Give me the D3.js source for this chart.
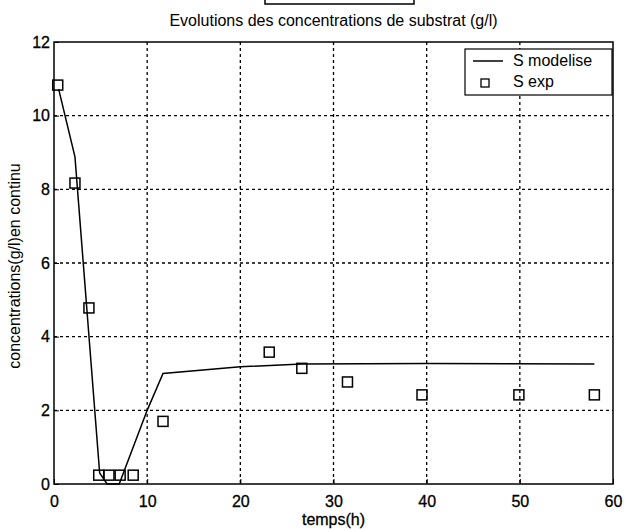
<!DOCTYPE html>
<html>
<head>
<meta charset="utf-8">
<script src="https://cdn.jsdelivr.net/npm/d3@7"></script>
<style>
  body { margin: 0; background: #fff; }
  svg text { font-family: "Liberation Sans", Arial, sans-serif; fill: #000; }
</style>
</head>
<body>
<svg id="chart" width="625" height="529"></svg>
<script>
// experimental points (time h, substrate g/l)
const expTime = [0.4, 2.25, 3.75, 4.8, 5.9, 7.1, 8.5, 11.7, 23.1, 26.6, 31.5, 39.5, 49.9, 58];
const expS    = [10.83, 8.17, 4.78, 0.24, 0.24, 0.24, 0.24, 1.7, 3.58, 3.14, 2.77, 2.42, 2.42, 2.42];

// modelled curve
const modTime = [0.5, 2.25, 4.9, 5.7, 7.0, 10, 11.7, 20, 26.6, 40, 58];
const modS    = [10.72, 8.88, 0.3, 0, 0, 2.0, 3.0, 3.18, 3.26, 3.27, 3.26];

const xTicks = [0, 10, 20, 30, 40, 50, 60];
const yTicks = [0, 2, 4, 6, 8, 10, 12];

const margin = { top: 42, right: 12, bottom: 45, left: 54 };
const width = 625 - margin.left - margin.right,
  height = 529 - margin.top - margin.bottom;

const svg = d3.select("#chart");
const g = svg.append("g")
  .attr("transform", `translate(${margin.left},${margin.top})`);

const x = d3.scaleLinear().domain([0, 60]).range([0, width]);
const y = d3.scaleLinear().domain([0, 12]).range([height, 0]);

// dotted grid
g.append("g").selectAll("line")
  .data(xTicks.slice(1, -1))
  .enter().append("line")
  .attr("x1", d => x(d)).attr("x2", d => x(d))
  .attr("y1", 0).attr("y2", height)
  .attr("stroke", "#000").attr("stroke-width", 1.3)
  .attr("stroke-dasharray", "3,3");
g.append("g").selectAll("line")
  .data(yTicks.slice(1, -1))
  .enter().append("line")
  .attr("x1", 0).attr("x2", width)
  .attr("y1", d => y(d)).attr("y2", d => y(d))
  .attr("stroke", "#000").attr("stroke-width", 1.3)
  .attr("stroke-dasharray", "3,3");

// axes
const xAxis = g.append("g")
  .attr("transform", `translate(0,${height})`)
  .call(d3.axisBottom(x).tickValues(xTicks).tickSize(-5).tickPadding(12));
const yAxis = g.append("g")
  .call(d3.axisLeft(y).tickValues(yTicks).tickSize(-5).tickPadding(4));
[xAxis, yAxis].forEach(a => {
  a.select(".domain").remove();
  a.selectAll("line").attr("stroke", "#000");
  a.selectAll("text").style("font-size", "16px").attr("fill", "#000")
    .attr("stroke", "#000").attr("stroke-width", 0.3);
});

// box
g.append("rect")
  .attr("width", width).attr("height", height)
  .attr("fill", "none").attr("stroke", "#000").attr("stroke-width", 1.5);

// model line
const line = d3.line()
  .x((d, i) => x(modTime[i]))
  .y((d, i) => y(modS[i]));
g.append("path")
  .datum(modS)
  .attr("d", line)
  .attr("fill", "none")
  .attr("stroke", "#000")
  .attr("stroke-width", 1.5);

// experimental squares
const sq = 10;
g.append("g").selectAll("rect")
  .data(expS)
  .enter().append("rect")
  .attr("x", (d, i) => x(expTime[i]) - sq / 2)
  .attr("y", d => y(d) - sq / 2)
  .attr("width", sq).attr("height", sq)
  .attr("fill", "none").attr("stroke", "#000").attr("stroke-width", 1.5);

// legend
const leg = g.append("g").attr("transform", `translate(${width - 148},7)`);
leg.append("rect")
  .attr("width", 147).attr("height", 46)
  .attr("fill", "#fff").attr("stroke", "#000").attr("stroke-width", 1.2);
leg.append("line")
  .attr("x1", 8).attr("x2", 38).attr("y1", 12).attr("y2", 12)
  .attr("stroke", "#000").attr("stroke-width", 1.5);
leg.append("text").attr("x", 48).attr("y", 17).style("font-size", "16px").text("S modelise");
leg.append("rect")
  .attr("x", 16).attr("y", 30).attr("width", 8).attr("height", 8)
  .attr("fill", "none").attr("stroke", "#000").attr("stroke-width", 1.3);
leg.append("text").attr("x", 48).attr("y", 38).style("font-size", "16px").text("S exp");

// top box fragment
svg.append("path")
  .attr("d", "M265,0 V4 H414 V0")
  .attr("fill", "none").attr("stroke", "#000").attr("stroke-width", 1.5);

// title and labels
svg.append("text")
  .attr("x", margin.left + width / 2).attr("y", 26)
  .attr("text-anchor", "middle").style("font-size", "16px")
  .text("Evolutions des concentrations de substrat (g/l)");
svg.append("text")
  .attr("x", margin.left + width / 2).attr("y", 525)
  .attr("text-anchor", "middle").style("font-size", "16px")
  .attr("stroke", "#000").attr("stroke-width", 0.3)
  .text("temps(h)");
svg.append("text")
  .attr("transform", `translate(20,${margin.top + height / 2 + 3}) rotate(-90)`)
  .attr("text-anchor", "middle").style("font-size", "16px")
  .text("concentrations(g/l)en continu");
</script>
</body>
</html>
